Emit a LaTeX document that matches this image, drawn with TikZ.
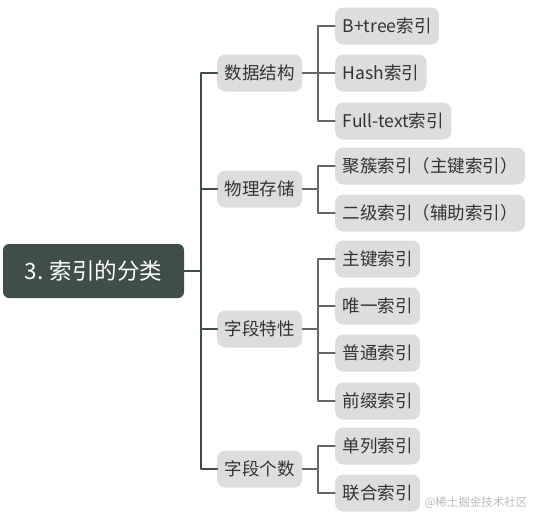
\documentclass[tikz,border=0pt]{standalone}
\usepackage{fontspec}
\setmainfont{Noto Sans CJK SC}
\definecolor{rootc}{HTML}{3F4E4A}
\definecolor{boxc}{HTML}{DDDDDD}
\definecolor{txtc}{HTML}{333333}
\definecolor{twigc}{HTML}{666666}
\definecolor{markc}{HTML}{BBBBBB}
\tikzset{
	rootbox/.style={fill=rootc, text=white, rounded corners=6pt, minimum width=181pt, minimum height=54pt, inner sep=0pt, font=\fontsize{22.5}{22.5}\selectfont},
	catbox/.style={fill=boxc, text=txtc, rounded corners=8pt, minimum height=37pt, inner xsep=7.5pt, inner ysep=0pt, anchor=west, font=\fontsize{17.5}{17.5}\selectfont},
	leafbox/.style={catbox},
	trunk/.style={draw=rootc, line width=2.6pt},
	twig/.style={draw=twigc, line width=1.3pt}
}
\begin{document}
\begin{tikzpicture}[x=1pt, y=-1pt, line join=round, line cap=round]
	\useasboundingbox (0,0) rectangle (536,523);
	\path 
	(201,271) coordinate (T)
	(318,73) coordinate (K1)
	(318,189) coordinate (K2)
	(318,329) coordinate (K3)
	(318,469) coordinate (K4)
	;
	\node[rootbox] (R) at (93.5,271) {3. 索引的分类};
	\foreach \n/\y/\t in {C1/73/数据结构,C2/189/物理存储,C3/329/字段特性,C4/469/字段个数}
	\node[catbox] (\n) at (217,\y) {\t};
	\foreach \n/\y/\t in {L1/26/B+tree索引,L2/73/Hash索引,L3/121/Full-text索引,
		L4/166/聚簇索引（主键索引）,L5/213/二级索引（辅助索引）,
		L6/259/主键索引,L7/306/唯一索引,L8/353/普通索引,L9/401/前缀索引,
		L10/446/单列索引,L11/493/联合索引}
	\node[leafbox] (\n) at (335,\y) {\t};
	% trunk
	\draw[trunk] (R.east) -- (T);
	\draw[trunk] (C1.west) -- (C1.west -| T) -- (C4.west -| T) -- (C4.west);
	\foreach \c in {C2,C3}
	\draw[trunk] (\c.west -| T) -- (\c.west);
	% twigs
	\foreach \c/\k in {C1/K1,C2/K2,C3/K3,C4/K4}
	\draw[twig] (\c.east) -- (\k);
	\foreach \k/\l in {K1/L1,K1/L2,K1/L3,K2/L4,K2/L5,K3/L6,K3/L7,K3/L8,K3/L9,K4/L10,K4/L11}
	\draw[twig] (\k) |- (\l.west);
	\node[text=markc, font=\fontsize{11.5}{11.5}\selectfont, anchor=west] (W) at (421,503) {@稀土掘金技术社区};
\end{tikzpicture}
\end{document}
